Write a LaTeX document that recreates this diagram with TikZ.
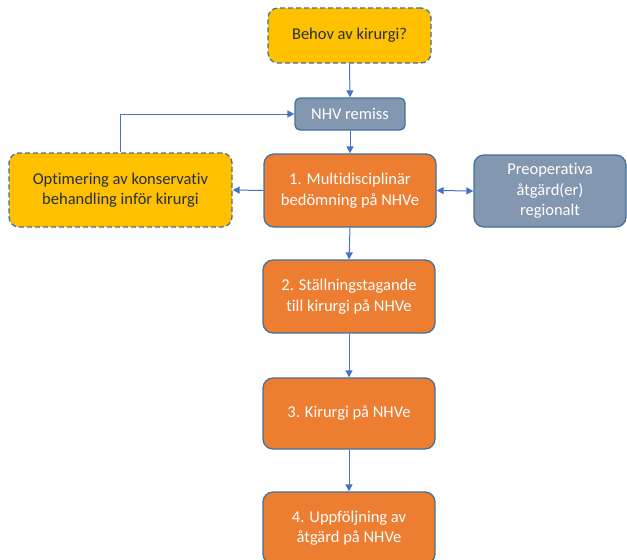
\documentclass[tikz,border=0pt]{standalone}
\usepackage{fontspec}
\setmainfont{Carlito}[Ligatures=NoCommon]
\usetikzlibrary{arrows.meta}
\definecolor{orng}{HTML}{ED7D31}
\definecolor{yell}{HTML}{FFC000}
\definecolor{gblue}{HTML}{8497B0}
\definecolor{bord}{HTML}{41719C}
\definecolor{arr}{HTML}{4472C4}
\definecolor{dtext}{HTML}{262F3D}
\tikzset{
  base/.style={rounded corners=10pt, line width=1.3pt, draw=bord, align=center, inner sep=0pt,
    font=\fontsize{16.5}{20.5}\selectfont},
  orbox/.style={base, fill=orng, text=white},
  yebox/.style={base, fill=yell, text=dtext, dash pattern=on 5pt off 3pt},
  gybox/.style={base, fill=gblue, text=white},
  conn/.style={draw=arr, line width=1pt, -{Triangle[length=7pt,width=7pt]}},
}
\begin{document}
\begin{tikzpicture}[x=1pt,y=-1pt]
\useasboundingbox (0,0) rectangle (627,560);
\begin{scope}
\clip (0,0) rectangle (627,560);
\node[yebox, minimum width=163pt, minimum height=55pt] (behov) at (349.5,35.5) {Behov av kirurgi?};
\node[gybox, minimum width=110pt, minimum height=32pt, rounded corners=5pt] (nhv) at (350,114) {NHV remiss};
\node[yebox, minimum width=223pt, minimum height=74pt] (opt) at (120.5,190) {Optimering av konservativ\\behandling inför kirurgi};
\node[orbox, minimum width=172pt, minimum height=73pt] (b1) at (350,190.5) {1. Multidisciplinär\\bedömning på NHVe};
\node[gybox, minimum width=152pt, minimum height=72pt] (pre) at (550,191) {Preoperativa\\åtgärd(er)\\regionalt};
\node[orbox, minimum width=172pt, minimum height=73pt] (b2) at (349,296.5) {2. Ställningstagande\\till kirurgi på NHVe};
\node[orbox, minimum width=172pt, minimum height=71pt] (b3) at (349,413.5) {3. Kirurgi på NHVe};
\node[orbox, minimum width=172pt, minimum height=72pt] (b4) at (349,528) {4. Uppföljning av\\åtgärd på NHVe};
\end{scope}
\draw[conn] (behov.south) -- (nhv.north);
\draw[conn] (nhv.south) -- (b1.north);
\draw[conn] (b1.west) -- (opt.east);
\draw[conn] (opt.north) |- (nhv.west);
\draw[conn, {Triangle[length=7pt,width=7pt]}-{Triangle[length=7pt,width=7pt]}] (b1.east) -- (pre.west);
\draw[conn] (b1.south) -- (b2.north);
\draw[conn] (b2.south) -- (b3.north);
\draw[conn] (b3.south) -- (b4.north);
\end{tikzpicture}
\end{document}
